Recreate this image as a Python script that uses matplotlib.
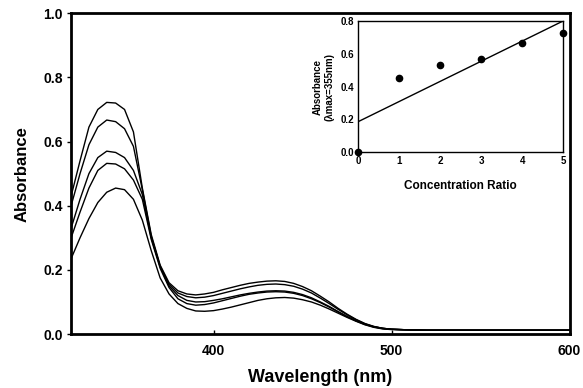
import matplotlib
matplotlib.use("Agg")
import matplotlib.pyplot as plt

plt.rcParams['font.family'] = ['Liberation Sans', 'DejaVu Sans']
plt.rcParams['font.weight'] = 'bold'

# Main spectra: wavelength (nm) and absorbance of five solutions
wavelength = [320, 325, 330, 335, 340, 345, 350, 355, 360, 365, 370, 375, 380, 385, 390,
              395, 400, 405, 410, 415, 420, 425, 430, 435, 440, 445, 450, 455, 460, 465,
              470, 475, 480, 485, 490, 495, 500, 510, 520, 530, 540, 550, 560, 570, 580,
              590, 600]

tail = [0.013, 0.012, 0.012, 0.012, 0.012, 0.012, 0.012, 0.012, 0.012, 0.012]

abs_1 = [0.43, 0.54, 0.645, 0.70, 0.722, 0.72, 0.70, 0.63, 0.455, 0.31, 0.215, 0.16, 0.135,
         0.125, 0.122, 0.125, 0.13, 0.138, 0.145, 0.152, 0.158, 0.162, 0.165, 0.166, 0.164,
         0.158, 0.148, 0.135, 0.118, 0.10, 0.08, 0.062, 0.046, 0.033, 0.024, 0.018, 0.015] + tail
abs_2 = [0.40, 0.50, 0.59, 0.645, 0.667, 0.662, 0.64, 0.585, 0.45, 0.305, 0.212, 0.155, 0.128,
         0.117, 0.113, 0.115, 0.12, 0.127, 0.134, 0.141, 0.147, 0.152, 0.155, 0.156, 0.154,
         0.149, 0.14, 0.128, 0.112, 0.095, 0.077, 0.06, 0.045, 0.032, 0.023, 0.018, 0.015] + tail
abs_3 = [0.33, 0.42, 0.50, 0.55, 0.57, 0.566, 0.55, 0.51, 0.435, 0.30, 0.21, 0.15, 0.12,
         0.105, 0.10, 0.101, 0.105, 0.11, 0.116, 0.122, 0.127, 0.131, 0.134, 0.135, 0.134,
         0.13, 0.123, 0.113, 0.10, 0.086, 0.07, 0.055, 0.042, 0.031, 0.023, 0.018, 0.015] + tail
abs_4 = [0.30, 0.38, 0.455, 0.51, 0.532, 0.53, 0.515, 0.48, 0.42, 0.295, 0.205, 0.145, 0.11,
         0.095, 0.09, 0.092, 0.097, 0.104, 0.111, 0.118, 0.124, 0.128, 0.131, 0.132, 0.131,
         0.127, 0.12, 0.11, 0.098, 0.084, 0.069, 0.054, 0.041, 0.03, 0.022, 0.017, 0.015] + tail
abs_5 = [0.235, 0.30, 0.36, 0.41, 0.442, 0.455, 0.45, 0.42, 0.355, 0.26, 0.175, 0.125, 0.095,
         0.08, 0.072, 0.071, 0.073, 0.078, 0.084, 0.091, 0.098, 0.105, 0.11, 0.113, 0.114,
         0.112, 0.107, 0.10, 0.09, 0.078, 0.065, 0.052, 0.04, 0.029, 0.021, 0.016, 0.014] + tail

spectra = [abs_1, abs_2, abs_3, abs_4, abs_5]

# Inset data
conc_ratio = [0, 1, 2, 3, 4, 5]
abs_355 = [0.0, 0.45, 0.53, 0.57, 0.665, 0.725]
fit_x = [0, 5]
fit_y = [0.185, 0.80]

main_xticks = [400, 500, 600]
main_yticks = [0.0, 0.2, 0.4, 0.6, 0.8, 1.0]
inset_xticks = [0, 1, 2, 3, 4, 5]
inset_yticks = [0.0, 0.2, 0.4, 0.6, 0.8]

fig = plt.figure(figsize=(5.83, 3.88), dpi=100)
ax = fig.add_axes([0.122, 0.139, 0.855, 0.827])
for s in spectra:
    ax.plot(wavelength, s, color='black', lw=1.0)
ax.set_xlim(320, 600)
ax.set_ylim(0, 1.0)
ax.set_xticks(main_xticks)
ax.set_yticks(main_yticks)
ax.set_yticklabels([f"{v:.1f}" for v in main_yticks])
for sp in ax.spines.values():
    sp.set_linewidth(2.0)
ax.tick_params(axis='y', direction='out', length=3, width=1, labelsize=10, pad=3)
ax.tick_params(axis='x', direction='in', length=3, width=1, labelsize=10, pad=7)
for lab in ax.get_xticklabels() + ax.get_yticklabels():
    lab.set_fontweight('bold')
ax.set_xlabel('Wavelength (nm)', fontsize=13, fontweight='bold', labelpad=8)
ax.set_ylabel('Absorbance', fontsize=12, fontweight='bold', labelpad=10)

ins = fig.add_axes([0.614, 0.608, 0.352, 0.338])
ins.plot(fit_x, fit_y, color='black', lw=1.0)
ins.plot(conc_ratio, abs_355, 'o', color='black', ms=4.5, clip_on=False)
ins.set_xlim(0, 5)
ins.set_ylim(0, 0.8)
ins.set_xticks(inset_xticks)
ins.set_yticks(inset_yticks)
ins.set_yticklabels([f"{v:.1f}" for v in inset_yticks])
for sp in ins.spines.values():
    sp.set_linewidth(1.0)
ins.tick_params(direction='in', length=0, labelsize=7, pad=3)
for lab in ins.get_xticklabels() + ins.get_yticklabels():
    lab.set_fontweight('bold')
ins.set_xlabel('Concentration Ratio', fontsize=8.5, fontweight='bold', labelpad=10)
ins.set_ylabel('Absorbance\n(\u03bbmax=355nm)', fontsize=7, fontweight='bold', labelpad=4)

fig.savefig('out.png', dpi=100)
